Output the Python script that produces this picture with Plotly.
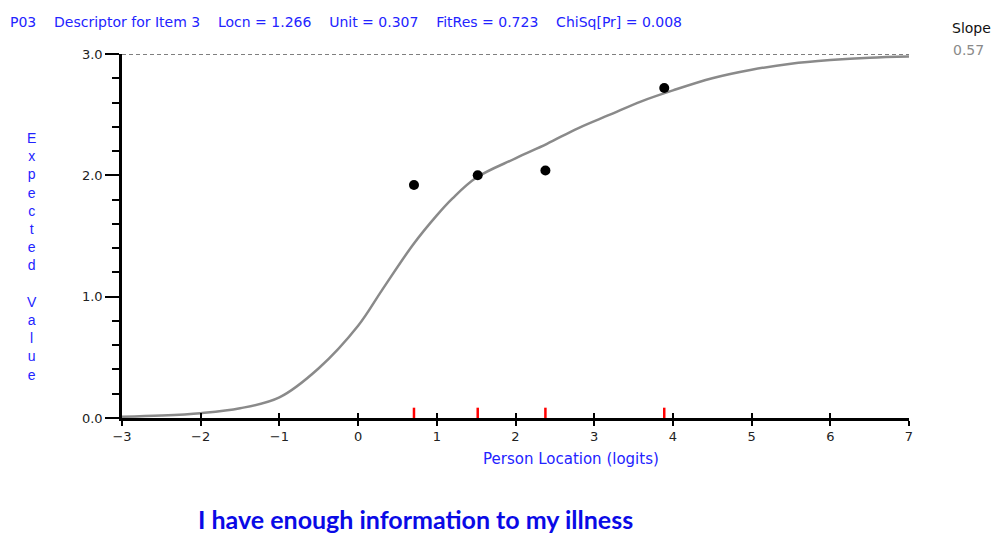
import plotly.graph_objects as go

# Expected value curve
curve_x = [-3, -2.5, -2, -1.5, -1, -0.5, 0, 0.3, 0.7, 1.0, 1.2, 1.5, 2.0, 2.4, 2.8, 3.2, 3.6, 4.0, 4.5, 5.0, 5.5, 6.0, 6.5, 7.0]
curve_y = [0.01, 0.02, 0.04, 0.08, 0.17, 0.41, 0.76, 1.05, 1.43, 1.67, 1.81, 1.98, 2.14, 2.26, 2.39, 2.50, 2.61, 2.70, 2.80, 2.87, 2.92, 2.95, 2.97, 2.98]

# Observed class means
obs_x = [0.71, 1.52, 2.38, 3.89]
obs_y = [1.92, 2.00, 2.04, 2.72]

x_ticks = [-3, -2, -1, 0, 1, 2, 3, 4, 5, 6, 7]
y_ticks = [0.0, 1.0, 2.0, 3.0]
y_tick_labels = ["0.0", "1.0", "2.0", "3.0"]

title_text = ("P03&nbsp;&nbsp;&nbsp;&nbsp;Descriptor for Item 3&nbsp;&nbsp;&nbsp;&nbsp;Locn = 1.266"
              "&nbsp;&nbsp;&nbsp;&nbsp;Unit = 0.307&nbsp;&nbsp;&nbsp;&nbsp;FitRes = 0.723"
              "&nbsp;&nbsp;&nbsp;&nbsp;ChiSq[Pr] = 0.008")
slope_value = "0.57"
item_label = "I have enough information to my illness"

BLUE = "#2323ff"
FONT = "Liberation Sans, Arial, sans-serif"
WIDE = "DejaVu Sans, sans-serif"

fig = go.Figure()

# red ticks at class interval locations
rx, ry = [], []
for v in obs_x:
    rx += [v, v, None]
    ry += [0, 0.085, None]
fig.add_trace(go.Scatter(x=rx, y=ry, mode="lines", line=dict(color="#ff0000", width=2.5),
                         hoverinfo="skip", showlegend=False, xaxis="x2", cliponaxis=False))

fig.add_trace(go.Scatter(x=curve_x, y=curve_y, mode="lines", line=dict(color="#8a8a8a", width=2.5, shape="spline", smoothing=1.0),
                         showlegend=False, cliponaxis=False))
fig.add_trace(go.Scatter(x=obs_x, y=obs_y, mode="markers", marker=dict(color="black", size=10),
                         showlegend=False))

fig.add_shape(type="line", xref="paper", x0=0, x1=1, yref="y", y0=3, y1=3,
              line=dict(color="black", width=1, dash="4px,3px"), layer="below")

fig.update_layout(
    width=993, height=535,
    margin=dict(l=122, r=84, t=54, b=117),
    plot_bgcolor="white", paper_bgcolor="white",
    font=dict(family=FONT, size=13, color="#222222"),
    title=dict(text=title_text, x=10/993, xanchor="left", xref="container",
               y=1 - 22/535, yanchor="middle", yref="container",
               font=dict(family=WIDE, size=14, color=BLUE)),
    xaxis=dict(range=[-3, 7], tickvals=x_ticks, ticks="outside", ticklen=5, tickwidth=1.5,
               tickcolor="black", showline=True, linecolor="black", linewidth=2.5,
               showgrid=False, zeroline=False, tickfont=dict(family=WIDE, size=13, color="#222")),
    xaxis2=dict(range=[-3, 7], overlaying="x", anchor="y", side="bottom", tickvals=x_ticks,
                ticks="inside", ticklen=5, tickwidth=1.5, tickcolor="black", showticklabels=False,
                showline=False, showgrid=False, zeroline=False),
    yaxis=dict(range=[0, 3], tickvals=y_ticks, ticktext=y_tick_labels, ticks="outside", ticklen=14,
               tickwidth=1.5, tickcolor="black", showline=True, linecolor="black", linewidth=2.5,
               showgrid=False, zeroline=False, tickfont=dict(family=WIDE, size=13, color="#222")),
)
fig.update_yaxes(minor=dict(dtick=0.2, ticks="outside", ticklen=7, tickwidth=1.5, tickcolor="black", showgrid=False))

ann = [
    dict(text="Slope", x=(993-122)/787, y=(418-28)/364, xanchor="right", yanchor="middle",
         font=dict(family=WIDE, size=14, color="#111")),
    dict(text=slope_value, x=(986-122)/787, y=(418-50)/364, xanchor="right", yanchor="middle",
         font=dict(family=WIDE, size=14, color="#8a8a8a")),
    dict(text="<br>".join(list("Expected")) + "<br> <br>" + "<br>".join(list("Value")),
         x=(32-122)/787, y=(418-256)/364, xanchor="center", yanchor="middle",
         font=dict(family=FONT, size=14, color=BLUE)),
    dict(text="Person Location (logits)", x=(571-122)/787, y=(418-459)/364, xanchor="center",
         yanchor="middle", font=dict(family=WIDE, size=15, color=BLUE)),
    dict(text="<b>" + item_label + "</b>", x=(415-122)/787, y=(418-519)/364, xanchor="center",
         yanchor="middle", font=dict(family="Lato, Open Sans, sans-serif", size=25, color="#0a0ae6")),
]
for a in ann:
    a.update(xref="paper", yref="paper", showarrow=False)
fig.update_layout(annotations=ann)

fig.write_html("out.html")
